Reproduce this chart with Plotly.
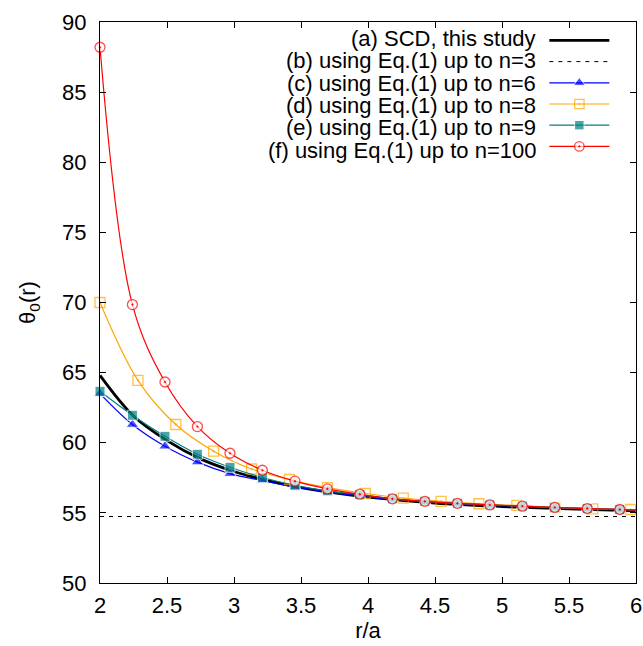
import plotly.graph_objects as go

# ---- data ----
labels = [
    "(a) SCD, this study",
    "(b) using Eq.(1) up to n=3",
    "(c) using Eq.(1) up to n=6",
    "(d) using Eq.(1) up to n=8",
    "(e) using Eq.(1) up to n=9",
    "(f) using Eq.(1) up to n=100",
]

x_scd = [2.0, 2.25, 2.5, 2.75, 3.0, 3.25, 3.5, 3.75, 4.0, 4.5, 5.0, 5.5, 6.0]
y_scd = [64.8, 61.9, 60.15, 58.85, 57.95, 57.3, 56.8, 56.42, 56.12, 55.7, 55.45, 55.28, 55.15]

x_n3 = [2.0, 6.0]
y_n3 = [54.74, 54.74]

x_pi6 = [2.000, 2.242, 2.485, 2.727, 2.970, 3.212, 3.455, 3.697, 3.939, 4.182,
         4.424, 4.667, 4.909, 5.152, 5.394, 5.636, 5.879, 6.000]
y_n6 = [63.5, 61.3, 59.75, 58.62, 57.8, 57.3, 56.85, 56.5, 56.2, 55.97,
        55.79, 55.65, 55.55, 55.46, 55.37, 55.3, 55.23, 55.18]
y_n9 = [63.67, 61.96, 60.46, 59.18, 58.25, 57.52, 56.97, 56.57, 56.3, 56.0,
        55.82, 55.68, 55.57, 55.48, 55.39, 55.31, 55.24, 55.2]
y_n100 = [88.2, 69.85, 64.33, 61.15, 59.25, 58.04, 57.26, 56.71, 56.33, 56.0,
          55.82, 55.68, 55.57, 55.48, 55.39, 55.31, 55.24, 55.2]

x_pi7 = [2.000, 2.283, 2.566, 2.848, 3.131, 3.414, 3.697, 3.980, 4.263, 4.545,
         4.828, 5.111, 5.394, 5.677, 5.960, 6.000]
y_n8 = [70.0, 64.45, 61.3, 59.4, 58.13, 57.38, 56.8, 56.38, 56.05, 55.82,
        55.65, 55.53, 55.39, 55.29, 55.24, 55.22]

xticks = [2, 2.5, 3, 3.5, 4, 4.5, 5, 5.5, 6]
yticks = [50, 55, 60, 65, 70, 75, 80, 85, 90]

FONT = "Liberation Sans, Arial, sans-serif"


def sizes(n, s):
    # markers on every sampled point except the closing end point at r/a = 6
    return [s] * (n - 1) + [0]


fig = go.Figure()

fig.add_trace(go.Scatter(
    x=x_scd, y=y_scd, mode="lines", name=" ",
    line=dict(color="black", width=2.8, shape="spline"),
))
fig.add_trace(go.Scatter(
    x=x_n3, y=y_n3, mode="lines", name=" ",
    line=dict(color="black", width=1, dash="4px,5px"),
))
fig.add_trace(go.Scatter(
    x=x_pi6, y=y_n6, mode="lines+markers", name=" ", cliponaxis=False,
    line=dict(color="#0000ff", width=1.2, shape="spline"),
    marker=dict(symbol="triangle-up", size=sizes(len(x_pi6), 11), color="#0000ff"),
))
fig.add_trace(go.Scatter(
    x=x_pi7, y=y_n8, mode="lines+markers", name=" ", cliponaxis=False,
    line=dict(color="#ffa500", width=1.2, shape="spline"),
    marker=dict(symbol="square-open-dot", size=sizes(len(x_pi7), 10), color="#ffa500",
                line=dict(width=1.3, color="#ffa500")),
))
fig.add_trace(go.Scatter(
    x=x_pi6, y=y_n9, mode="lines+markers", name=" ", cliponaxis=False,
    line=dict(color="#008080", width=1.2, shape="spline"),
    marker=dict(symbol="square", size=sizes(len(x_pi6), 10), color="#008080"),
))
fig.add_trace(go.Scatter(
    x=x_pi6, y=y_n100, mode="lines+markers", name=" ", cliponaxis=False,
    line=dict(color="#ff0000", width=1.2, shape="spline"),
    marker=dict(symbol="circle-dot", size=sizes(len(x_pi6), 10), color="white",
                line=dict(width=1.3, color="#ff0000")),
))

# legend text, right-aligned to the left of the legend samples (gnuplot style)
row0 = 0.9708
drow = 0.0398
for i, lab in enumerate(labels):
    fig.add_annotation(
        text=lab, xref="paper", yref="paper", x=0.817, y=row0 - i * drow,
        xanchor="right", yanchor="middle", showarrow=False,
        font=dict(family=FONT, size=22, color="black"),
    )

axis_common = dict(
    showgrid=False, zeroline=False, showline=True, linecolor="black", linewidth=1,
    mirror="ticks", ticks="inside", ticklen=6, tickcolor="black", tickwidth=1,
    tickfont=dict(family=FONT, size=22, color="black"),
)

fig.update_xaxes(range=[2, 6], tickvals=xticks, ticktext=[f"{v:g}" for v in xticks],
                 ticklabelstandoff=3,
                 title=dict(text="r/a", font=dict(family=FONT, size=22), standoff=0),
                 **axis_common)
fig.update_yaxes(range=[50, 90], tickvals=yticks, ticktext=[str(v) for v in yticks],
                 ticklabelstandoff=8,
                 title=dict(text="θ<sub>0</sub>(r)", font=dict(family=FONT, size=22), standoff=20),
                 **axis_common)

fig.update_layout(
    width=643, height=646,
    margin=dict(l=100, r=7, t=22, b=63, autoexpand=False),
    plot_bgcolor="white", paper_bgcolor="white",
    font=dict(family=FONT, size=22, color="black"),
    showlegend=True,
    legend=dict(x=0.829, y=0.995, xanchor="left", yanchor="top",
                bgcolor="rgba(0,0,0,0)", font=dict(family=FONT, size=14),
                itemwidth=60, tracegroupgap=0),
)

fig.write_html("out.html")
